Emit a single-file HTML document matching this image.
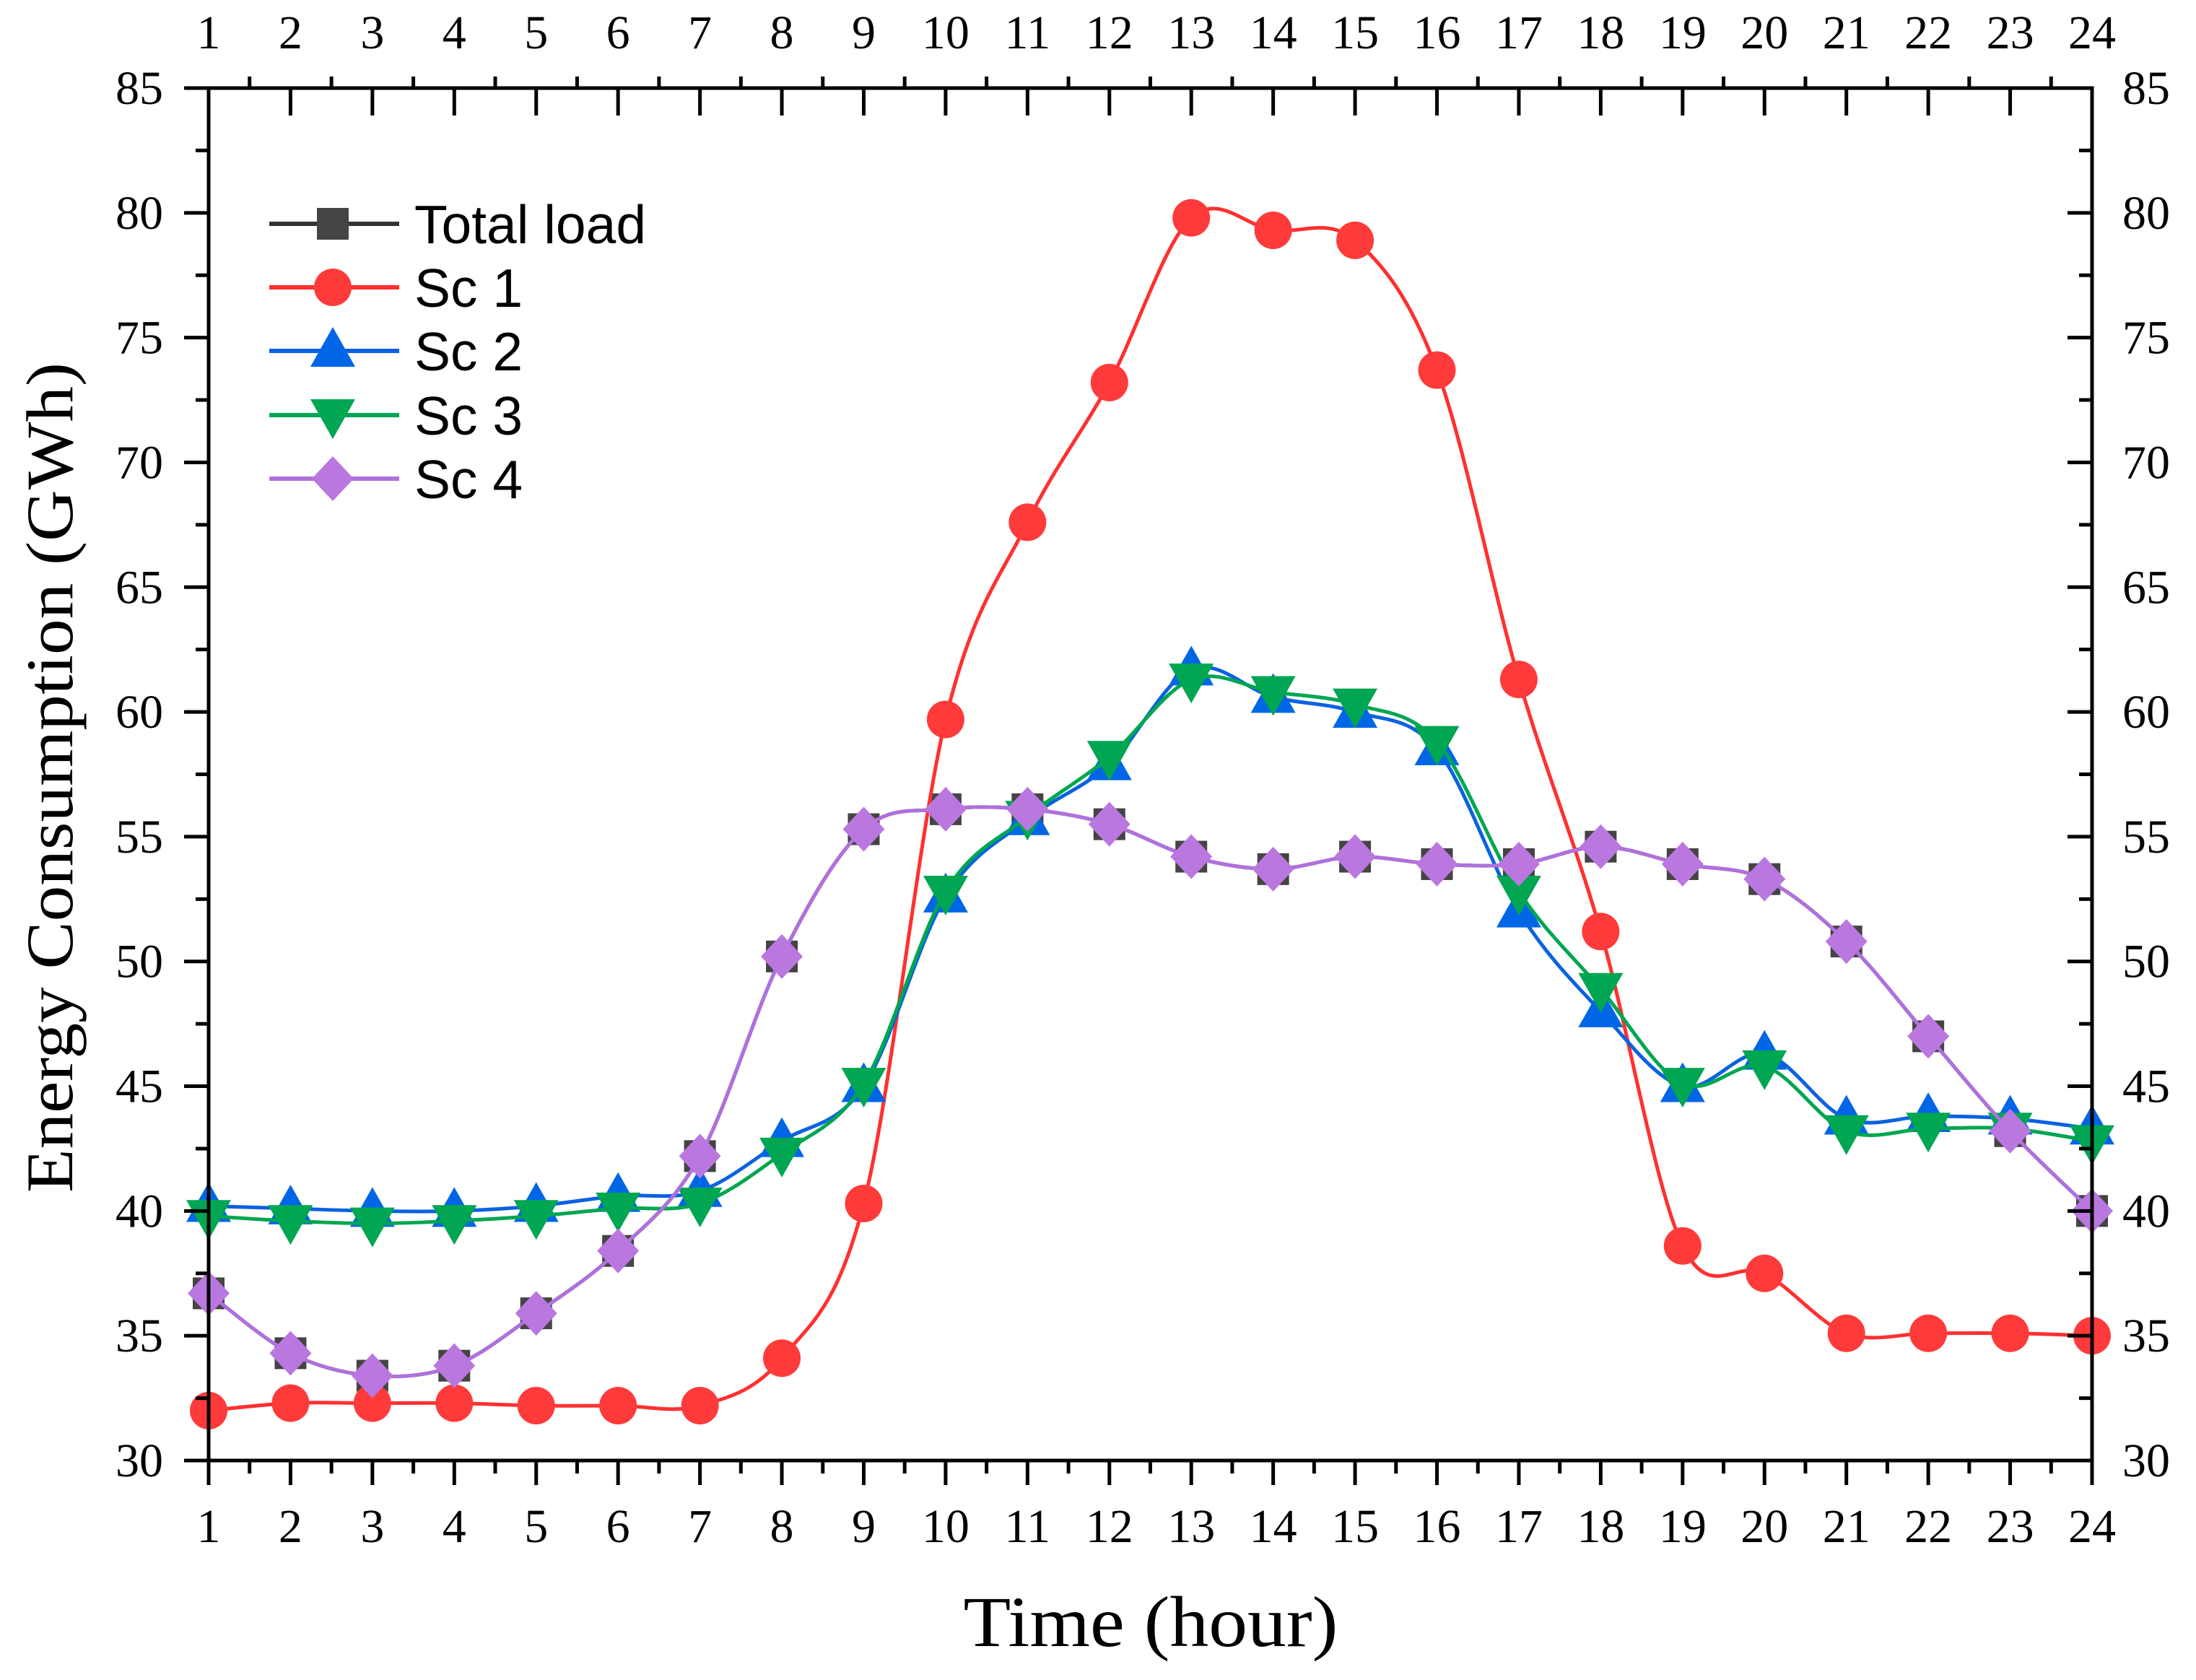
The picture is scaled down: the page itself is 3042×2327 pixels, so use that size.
<!DOCTYPE html>
<html><head><meta charset="utf-8"><style>
html,body{margin:0;padding:0;background:#fff}
svg{display:block}
</style></head><body>
<svg id="chart" xmlns="http://www.w3.org/2000/svg" width="3042" height="2327" viewBox="0 0 3042 2327">
<rect width="3042" height="2327" fill="#fff"/>
<g id="grid-layer"></g>
<g id="series-layer"></g>
<g id="axes-layer"></g>
<text x="1594" y="2280" font-family="Liberation Serif, serif" font-size="100" text-anchor="middle" textLength="519" lengthAdjust="spacingAndGlyphs">Time (hour)</text>
<text transform="translate(100,1077) rotate(-90)" font-family="Liberation Serif, serif" font-size="92" text-anchor="middle" textLength="1150" lengthAdjust="spacingAndGlyphs">Energy Consumption (GWh)</text>
<g id="legend"></g>
</svg>
<script>
const hours = [1,2,3,4,5,6,7,8,9,10,11,12,13,14,15,16,17,18,19,20,21,22,23,24];
const totalLoad = [36.7,34.3,33.4,33.8,35.9,38.4,42.2,50.2,55.3,56.1,56.1,55.5,54.2,53.7,54.2,53.9,53.9,54.6,53.9,53.3,50.8,47.0,43.2,40.0];
const sc1 = [32.0,32.3,32.3,32.3,32.2,32.2,32.2,34.1,40.3,59.7,67.6,73.2,79.8,79.3,78.9,73.7,61.3,51.2,38.6,37.5,35.1,35.1,35.1,35.0];
const sc2 = [40.2,40.1,40.0,40.0,40.2,40.6,40.8,42.8,45.0,52.6,55.7,57.9,61.7,60.6,60.0,58.5,52.0,48.0,45.0,46.3,43.7,43.8,43.7,43.3];
const sc3 = [39.8,39.6,39.5,39.6,39.8,40.1,40.3,42.3,45.1,52.8,55.8,58.2,61.3,60.8,60.3,58.8,52.8,48.9,45.1,45.8,43.2,43.3,43.3,42.8];
const sc4 = [36.7,34.3,33.4,33.8,35.9,38.4,42.2,50.2,55.3,56.1,56.1,55.5,54.2,53.7,54.2,53.9,53.9,54.6,53.9,53.3,50.8,47.0,43.2,40.0];
const yTicks = [30,35,40,45,50,55,60,65,70,75,80,85];
const xTickLabels = ["1","2","3","4","5","6","7","8","9","10","11","12","13","14","15","16","17","18","19","20","21","22","23","24"];

const NS="http://www.w3.org/2000/svg";
const L=289,R=2898,T=122,B=2023;
function xs(v){return L+(v-1)/(23)*(R-L);}
function ys(v){return B-(v-30)/55*(B-T);}
function mk(tag,attrs,parent){const e=document.createElementNS(NS,tag);for(const k in attrs)e.setAttribute(k,attrs[k]);parent.appendChild(e);return e;}
const axes=document.getElementById('axes-layer');
const ser=document.getElementById('series-layer');
const SW=5;
const frame=mk('rect',{x:L,y:T,width:R-L,height:B-T,fill:'none',stroke:'#000','stroke-width':SW},axes);


for(let i=0;i<hours.length;i++){
  const x=xs(hours[i]);
  mk('line',{x1:x,y1:B,x2:x,y2:B+34,stroke:'#000','stroke-width':SW},axes);
  mk('line',{x1:x,y1:T,x2:x,y2:T+38,stroke:'#000','stroke-width':SW},axes);
  if(i<hours.length-1){const xm=xs(hours[i]+0.5);
    mk('line',{x1:xm,y1:B,x2:xm,y2:B+18,stroke:'#000','stroke-width':SW},axes);
    mk('line',{x1:xm,y1:T,x2:xm,y2:T-16,stroke:'#000','stroke-width':SW},axes);}
  const tb=mk('text',{x:x,y:2136,'font-family':'Liberation Serif, serif','font-size':66,'text-anchor':'middle'},axes);
  tb.textContent=xTickLabels[i];
  
  
  const tt=mk('text',{x:x,y:67,'font-family':'Liberation Serif, serif','font-size':66,'text-anchor':'middle'},axes);
  tt.textContent=xTickLabels[i];
  
  
}
for(let i=0;i<yTicks.length;i++){
  const y=ys(yTicks[i]);
  mk('line',{x1:L,y1:y,x2:L-34,y2:y,stroke:'#000','stroke-width':SW},axes);
  mk('line',{x1:R,y1:y,x2:R-34,y2:y,stroke:'#000','stroke-width':SW},axes);
  if(i<yTicks.length-1){const ym=ys(yTicks[i]+2.5);
    mk('line',{x1:L,y1:ym,x2:L-18,y2:ym,stroke:'#000','stroke-width':SW},axes);
    mk('line',{x1:R,y1:ym,x2:R-18,y2:ym,stroke:'#000','stroke-width':SW},axes);}
  const tl=mk('text',{x:226,y:y+22,'font-family':'Liberation Serif, serif','font-size':66,'text-anchor':'end'},axes);
  tl.textContent=yTicks[i];
  
  
  const tr=mk('text',{x:2940,y:y+22,'font-family':'Liberation Serif, serif','font-size':66,'text-anchor':'start'},axes);
  tr.textContent=yTicks[i];
  
  
}
function pathFor(vals){
  const p=vals.map((v,i)=>[xs(hours[i]),ys(v)]);
  let d='M'+p[0][0]+','+p[0][1];
  for(let i=0;i<p.length-1;i++){
    const p0=p[i-1]||p[i],p1=p[i],p2=p[i+1],p3=p[i+2]||p[i+1];
    const c1=[p1[0]+(p2[0]-p0[0])/6,p1[1]+(p2[1]-p0[1])/6];
    const c2=[p2[0]-(p3[0]-p1[0])/6,p2[1]-(p3[1]-p1[1])/6];
    d+=' C'+c1+' '+c2+' '+p2;
  }
  return d;
}
function marker(shape,x,y,color,parent){
  let e;
  if(shape==='square') e=mk('rect',{x:x-22,y:y-22,width:44,height:44,fill:color},parent);
  else if(shape==='circle') e=mk('circle',{cx:x,cy:y,r:26,fill:color},parent);
  else if(shape==='up') e=mk('polygon',{points:`${x},${y-33} ${x-31},${y+22} ${x+31},${y+22}`,fill:color},parent);
  else if(shape==='down') e=mk('polygon',{points:`${x},${y+33} ${x-31},${y-22} ${x+31},${y-22}`,fill:color},parent);
  else e=mk('polygon',{points:`${x},${y-31} ${x+29},${y} ${x},${y+31} ${x-29},${y}`,fill:color},parent);
  return e;
}
const series=[
 {name:'Total load',vals:totalLoad,color:'#444',line:'#333',shape:'square',key:'total-load'},
 {name:'Sc 1',vals:sc1,color:'#ff3a3a',line:'#ff3030',shape:'circle',key:'sc1'},
 {name:'Sc 2',vals:sc2,color:'#0066e6',line:'#0a62e0',shape:'up',key:'sc2'},
 {name:'Sc 3',vals:sc3,color:'#00a651',line:'#00a651',shape:'down',key:'sc3'},
 {name:'Sc 4',vals:sc4,color:'#bb77e0',line:'#b070dd',shape:'diamond',key:'sc4'}
];
for(const s of series){
  const g=mk('g',{},ser);
  
  
  const pth=mk('path',{d:pathFor(s.vals),fill:'none',stroke:s.line,'stroke-width':5},g);
  
  
  s.vals.forEach((v,i)=>{
    const m=marker(s.shape,xs(hours[i]),ys(v),s.color,g);
    
    
  });
}
const lg=document.getElementById('legend');
const rows=[310,398,486,575,663];
series.forEach((s,i)=>{
  const y=rows[i];
  const g=mk('g',{},lg);
  
  
  mk('line',{x1:373,y1:y,x2:553,y2:y,stroke:s.line,'stroke-width':6},g);
  marker(s.shape,461,y,s.color,g);
  const t=mk('text',{x:574,y:y+27,'font-family':'Liberation Sans, sans-serif','font-size':75},g);
  t.textContent=s.name;
});
</script>
</body></html>
